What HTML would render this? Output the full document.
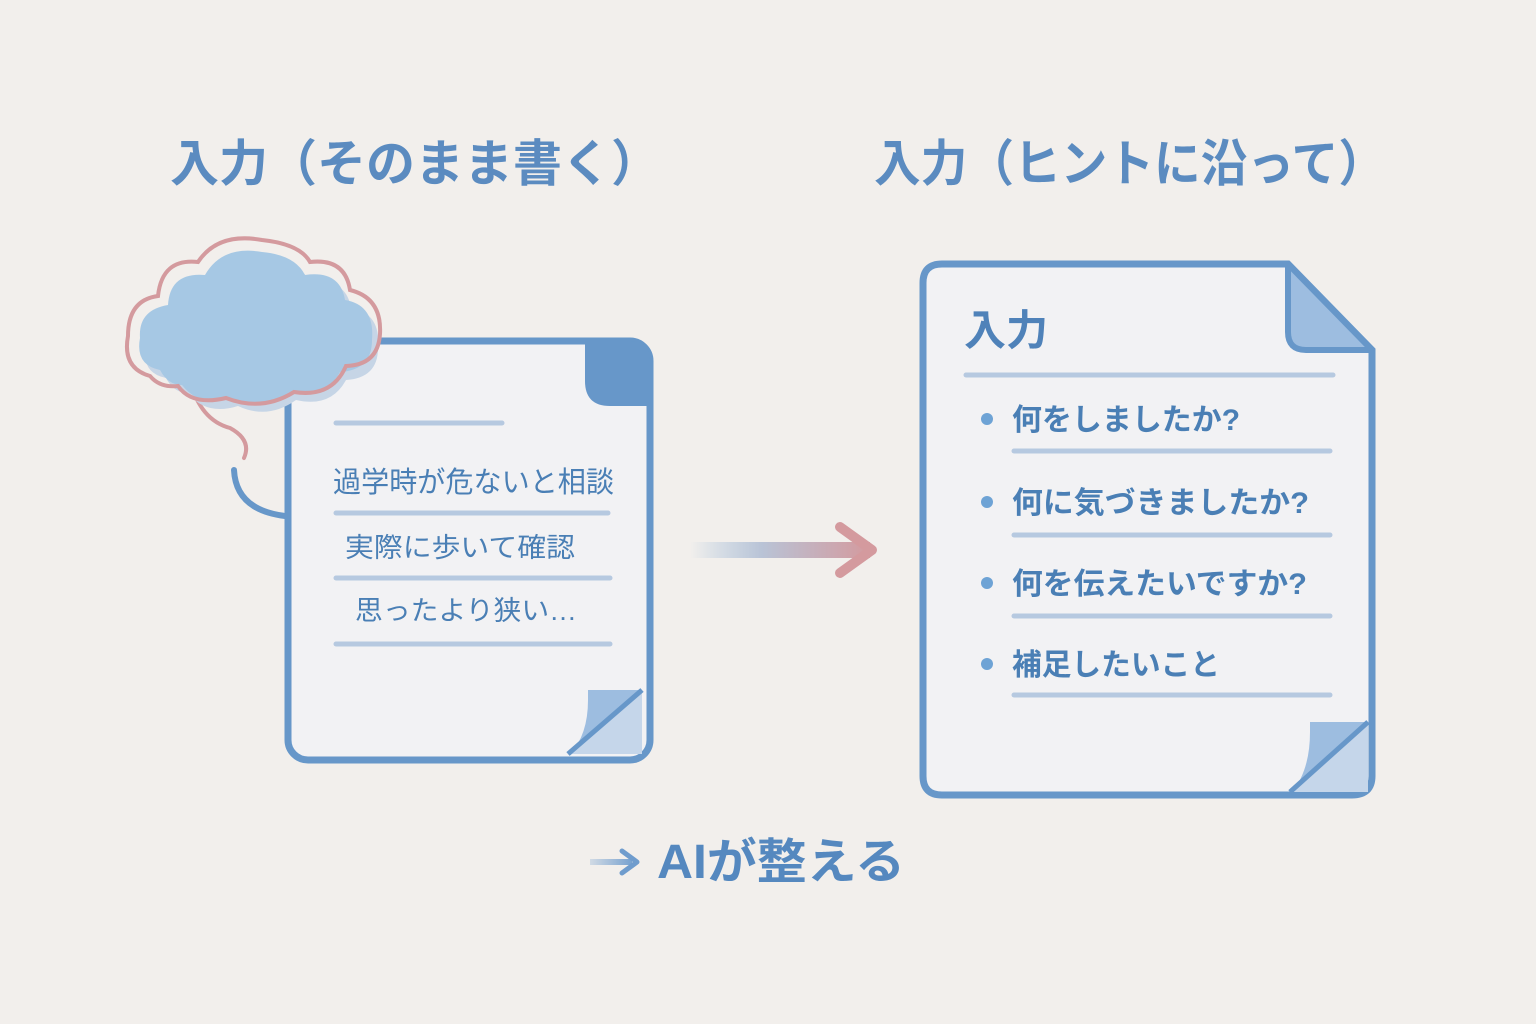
<!DOCTYPE html>
<html><head><meta charset="utf-8"><style>
html,body{margin:0;padding:0;background:#f2efec;}
svg{display:block}
text{font-family:"Liberation Sans","Noto Sans CJK JP",sans-serif;}
</style></head><body>
<svg width="1536" height="1024" viewBox="0 0 1536 1024" xmlns="http://www.w3.org/2000/svg">
<defs>
<linearGradient id="ag" gradientUnits="userSpaceOnUse" x1="690" y1="0" x2="870" y2="0">
<stop offset="0" stop-color="#a9c4de" stop-opacity="0"/>
<stop offset="0.4" stop-color="#b9c3d6"/>
<stop offset="1" stop-color="#d49a9e"/>
</linearGradient>
<linearGradient id="bg2" gradientUnits="userSpaceOnUse" x1="590" y1="0" x2="636" y2="0"><stop offset="0" stop-color="#6f9ccd" stop-opacity="0.25"/><stop offset="1" stop-color="#6f9ccd"/></linearGradient>
</defs>
<rect width="1536" height="1024" fill="#f2efec"/>

<text x="170" y="181" font-size="50" font-weight="bold" fill="#5b8bc0" textLength="490" lengthAdjust="spacingAndGlyphs">入力（そのまま書く）</text>
<text x="874" y="181" font-size="50" font-weight="bold" fill="#5b8bc0" textLength="511" lengthAdjust="spacingAndGlyphs">入力（ヒントに沿って）</text>

<!-- left doc -->
<rect x="288" y="341" width="362" height="419" rx="20" fill="#f2f2f4" stroke="#6797c9" stroke-width="7"/>
<path d="M585 341 H630 Q650 341 650 361 V406 H610 Q585 406 585 381 Z" fill="#6797c9"/>
<path d="M568 754 L642 690 L642 754 Z" fill="#c5d6ea"/>
<path d="M588 690 H642 L570 754 Q588 735 588 700 Z" fill="#9dbde0"/>
<line x1="568" y1="754" x2="642" y2="690" stroke="#6797c9" stroke-width="5"/>
<line x1="336" y1="423" x2="502" y2="423" stroke="#b6c9e0" stroke-width="5" stroke-linecap="round"/>
<line x1="336" y1="513" x2="608" y2="513" stroke="#b6c9e0" stroke-width="5" stroke-linecap="round"/>
<line x1="336" y1="578" x2="610" y2="578" stroke="#b6c9e0" stroke-width="5" stroke-linecap="round"/>
<line x1="336" y1="644" x2="610" y2="644" stroke="#b6c9e0" stroke-width="5" stroke-linecap="round"/>
<text x="333" y="492" font-size="29" fill="#4a7fb5" textLength="281" lengthAdjust="spacingAndGlyphs">過学時が危ないと相談</text>
<text x="345" y="557" font-size="27" fill="#4a7fb5" textLength="230" lengthAdjust="spacingAndGlyphs">実際に歩いて確認</text>
<text x="355" y="620" font-size="27" fill="#4a7fb5" textLength="222" lengthAdjust="spacingAndGlyphs">思ったより狭い…</text>
<path d="M234 470 Q236 510 285 516" fill="none" stroke="#6797c9" stroke-width="6" stroke-linecap="round"/>
<path d="M190 380 Q200 420 230 428 Q252 440 244 458" fill="none" stroke="#d49a9e" stroke-width="4" stroke-linecap="round"/>

<!-- cloud -->
<g transform="translate(6,8)">
<path d="M160 370 Q135 365 140 338 Q138 310 168 305 Q170 272 205 275 Q222 245 262 252 Q295 255 305 275 Q340 270 345 300 Q375 305 372 340 Q372 370 340 372 Q325 400 290 392 Q262 412 232 398 Q200 408 182 385 Q168 385 160 370Z" fill="#c6d5e6"/>
</g>
<path d="M160 370 Q135 365 140 338 Q138 310 168 305 Q170 272 205 275 Q222 245 262 252 Q295 255 305 275 Q340 270 345 300 Q375 305 372 340 Q372 370 340 372 Q325 400 290 392 Q262 412 232 398 Q200 408 182 385 Q168 385 160 370Z" fill="#a6c8e4"/>
<path d="M150 376 Q122 368 128 336 Q128 300 158 296 Q162 258 198 262 Q218 232 262 240 Q300 244 310 262 Q345 258 350 290 Q382 298 380 334 Q378 365 346 366 Q332 398 294 392 Q262 412 226 398 Q192 406 178 386 Q160 388 150 376Z" fill="none" stroke="#d49a9e" stroke-width="4"/>

<!-- arrow -->
<rect x="690" y="542" width="180" height="16" fill="url(#ag)"/>
<path d="M840 527 L872 550 L840 573" fill="none" stroke="#d49a9e" stroke-width="10" stroke-linecap="round" stroke-linejoin="round"/>

<!-- right doc -->
<path d="M942 264 H1288 L1372 350 V776 Q1372 795 1352 795 H942 Q923 795 923 776 V283 Q923 264 942 264Z" fill="#f2f2f4" stroke="#6797c9" stroke-width="7"/>
<path d="M1288 264 L1372 350 H1306 Q1288 350 1288 332 Z" fill="#9dbde0" stroke="#6797c9" stroke-width="6" stroke-linejoin="round"/>
<path d="M1290 792 L1368 722 V792 Z" fill="#c5d6ea"/>
<path d="M1310 722 H1368 L1292 792 Q1310 770 1310 732Z" fill="#9dbde0"/>
<line x1="1290" y1="792" x2="1368" y2="722" stroke="#6797c9" stroke-width="5"/>
<text x="964" y="345" font-size="42" font-weight="bold" fill="#4f82b9">入力</text>
<line x1="966" y1="375" x2="1333" y2="375" stroke="#b6c9e0" stroke-width="5" stroke-linecap="round"/>
<g fill="#4a7fb5" font-size="30" font-weight="bold">
<circle cx="987" cy="419" r="6" fill="#6ea3d5"/><text x="1012" y="430" textLength="228" lengthAdjust="spacingAndGlyphs">何をしましたか?</text>
<circle cx="987" cy="502" r="6" fill="#6ea3d5"/><text x="1012" y="513" textLength="297" lengthAdjust="spacingAndGlyphs">何に気づきましたか?</text>
<circle cx="987" cy="583" r="6" fill="#6ea3d5"/><text x="1012" y="594" textLength="295" lengthAdjust="spacingAndGlyphs">何を伝えたいですか?</text>
<circle cx="987" cy="664" r="6" fill="#6ea3d5"/><text x="1012" y="675" textLength="208" lengthAdjust="spacingAndGlyphs">補足したいこと</text>
</g>
<g stroke="#b6c9e0" stroke-width="5" stroke-linecap="round">
<line x1="1014" y1="451" x2="1330" y2="451"/>
<line x1="1014" y1="535" x2="1330" y2="535"/>
<line x1="1014" y1="616" x2="1330" y2="616"/>
<line x1="1014" y1="695" x2="1330" y2="695"/>
</g>

<!-- bottom -->
<rect x="590" y="859" width="42" height="6" fill="url(#bg2)"/>
<path d="M622 851 L637 862 L622 873" fill="none" stroke="#6f9ccd" stroke-width="5" stroke-linecap="round" stroke-linejoin="round"/>
<text x="657" y="878" font-size="48" font-weight="bold" fill="#5588bf" textLength="248" lengthAdjust="spacingAndGlyphs">AIが整える</text>
</svg>
</body></html>
